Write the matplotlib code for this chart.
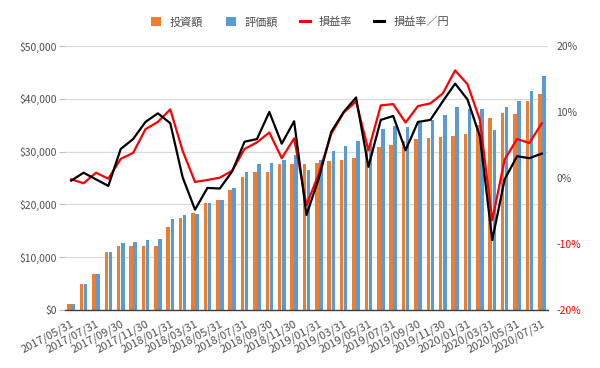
import matplotlib
matplotlib.use("Agg")
import matplotlib.pyplot as plt
from matplotlib.patches import Patch
from matplotlib.lines import Line2D
from matplotlib.ticker import FuncFormatter, MultipleLocator

plt.rcParams['font.family'] = ['Noto Sans CJK JP', 'DejaVu Sans']

dates = ["2017/05/31", "2017/06/30", "2017/07/31", "2017/08/31", "2017/09/30", "2017/10/31",
         "2017/11/30", "2017/12/31", "2018/01/31", "2018/02/28", "2018/03/31", "2018/04/30",
         "2018/05/31", "2018/06/30", "2018/07/31", "2018/08/31", "2018/09/30", "2018/10/31",
         "2018/11/30", "2018/12/31", "2019/01/31", "2019/02/28", "2019/03/31", "2019/04/30",
         "2019/05/31", "2019/06/30", "2019/07/31", "2019/08/31", "2019/09/30", "2019/10/31",
         "2019/11/30", "2019/12/31", "2020/01/31", "2020/02/29", "2020/03/31", "2020/04/30",
         "2020/05/31", "2020/06/30", "2020/07/31"]

invest = [1100, 4900, 6800, 10900, 12200, 12200, 12200, 12200, 15800, 17500,
          18300, 20200, 20900, 22800, 25100, 26200, 26200, 27700, 27700, 27700,
          27900, 28200, 28500, 28700, 30400, 30800, 31300, 32100, 32300, 32600,
          32800, 33000, 33400, 35100, 36400, 37400, 37200, 39500, 41000]

value = [1100, 4900, 6800, 10900, 12600, 12800, 13200, 13400, 17300, 18000,
         18100, 20200, 20900, 23200, 26200, 27700, 27900, 28500, 29400, 26500,
         28500, 30100, 31100, 32100, 31700, 34200, 34900, 34700, 35800, 36000,
         37000, 38500, 38100, 38100, 34000, 38500, 39500, 41500, 44400]

rate = [-0.2, -0.8, 0.8, -0.1, 2.9, 3.8, 7.4, 8.5, 10.4, 4.1,
        -0.6, -0.3, 0.05, 1.1, 4.4, 5.4, 6.9, 3.0, 6.0, -4.1,
        0.7, 6.7, 9.9, 11.6, 4.2, 11.0, 11.2, 8.4, 10.9, 11.3,
        12.8, 16.3, 14.2, 8.8, -6.4, 2.8, 5.9, 5.3, 8.3]

rate_yen = [-0.4, 0.8, -0.2, -1.2, 4.4, 5.9, 8.5, 9.8, 8.3, 0.1,
            -4.8, -1.5, -1.6, 1.0, 5.5, 5.9, 10.0, 5.2, 8.6, -5.6,
            0.0, 7.0, 10.0, 12.2, 1.7, 8.8, 9.4, 4.2, 8.5, 8.8,
            11.6, 14.3, 11.9, 6.3, -9.4, -0.2, 3.3, 3.0, 3.7]

series_names = ["投資額", "評価額", "損益率", "損益率／円"]

C_OR = "#ED7D31"
C_BL = "#5B9BD5"
C_TXT = "#505050"

fig = plt.figure(figsize=(6.0, 3.68), dpi=100)
ax = fig.add_axes([65/600, 1-310/368, (548-65)/600, (310-46)/368])
x = list(range(len(dates)))
bw = 0.29
ax.bar([i - 0.165 for i in x], invest, width=bw, color=C_OR, zorder=2)
ax.bar([i + 0.165 for i in x], value, width=bw, color=C_BL, zorder=2)
ax.set_xlim(-0.5, len(dates) - 0.5)
ax.set_ylim(0, 50000)
ax.yaxis.set_major_locator(MultipleLocator(10000))
ax.yaxis.set_major_formatter(FuncFormatter(lambda v, p: "${:,.0f}".format(v)))
ax.grid(axis='y', color="#D9D9D9", linewidth=0.9, zorder=0)
ax.set_axisbelow(True)
for s in ['top', 'right', 'left']:
    ax.spines[s].set_visible(False)
ax.spines['bottom'].set_color("#404040")
ax.spines['bottom'].set_linewidth(1.0)
ax.tick_params(axis='y', colors="#BFBFBF", labelcolor=C_TXT, labelsize=7.5, length=4, width=0.8, pad=2)
ax.set_xticks(x[::2])
ax.set_xticklabels(dates[::2], rotation=28, ha='right', rotation_mode='anchor',
                   fontsize=8, color=C_TXT)
ax.tick_params(axis='x', length=0, pad=6)

ax2 = ax.twinx()
ax2.plot(x, rate, color="#FF0000", linewidth=1.6, zorder=3)
ax2.plot(x, rate_yen, color="#000000", linewidth=1.6, zorder=4)
ax2.set_ylim(-20, 20)
ax2.yaxis.set_major_locator(MultipleLocator(10))
ax2.yaxis.set_major_formatter(FuncFormatter(lambda v, p: "{:.0f}%".format(v)))
for s in ['top', 'right', 'left', 'bottom']:
    ax2.spines[s].set_visible(False)
ax2.tick_params(axis='y', length=0, labelsize=7.5, labelcolor=C_TXT, pad=6)
fig.canvas.draw()
for lab in ax2.get_yticklabels():
    txt = lab.get_text().replace("−", "-")
    if txt.startswith("-"):
        lab.set_color("#FF0000")
        lab.set_text(txt)

handles = [Patch(facecolor=C_OR, edgecolor='none'),
           Patch(facecolor=C_BL, edgecolor='none'),
           Line2D([0], [0], color="#FF0000", linewidth=2.2),
           Line2D([0], [0], color="#000000", linewidth=2.2)]
fig.legend(handles, series_names, loc='center', bbox_to_anchor=(0.5, 1 - 22/368),
           ncol=4, frameon=False, fontsize=8, handlelength=0.9, handleheight=0.9,
           handletextpad=0.8, columnspacing=2.0, labelcolor=C_TXT)

fig.savefig("out.png", dpi=100)
